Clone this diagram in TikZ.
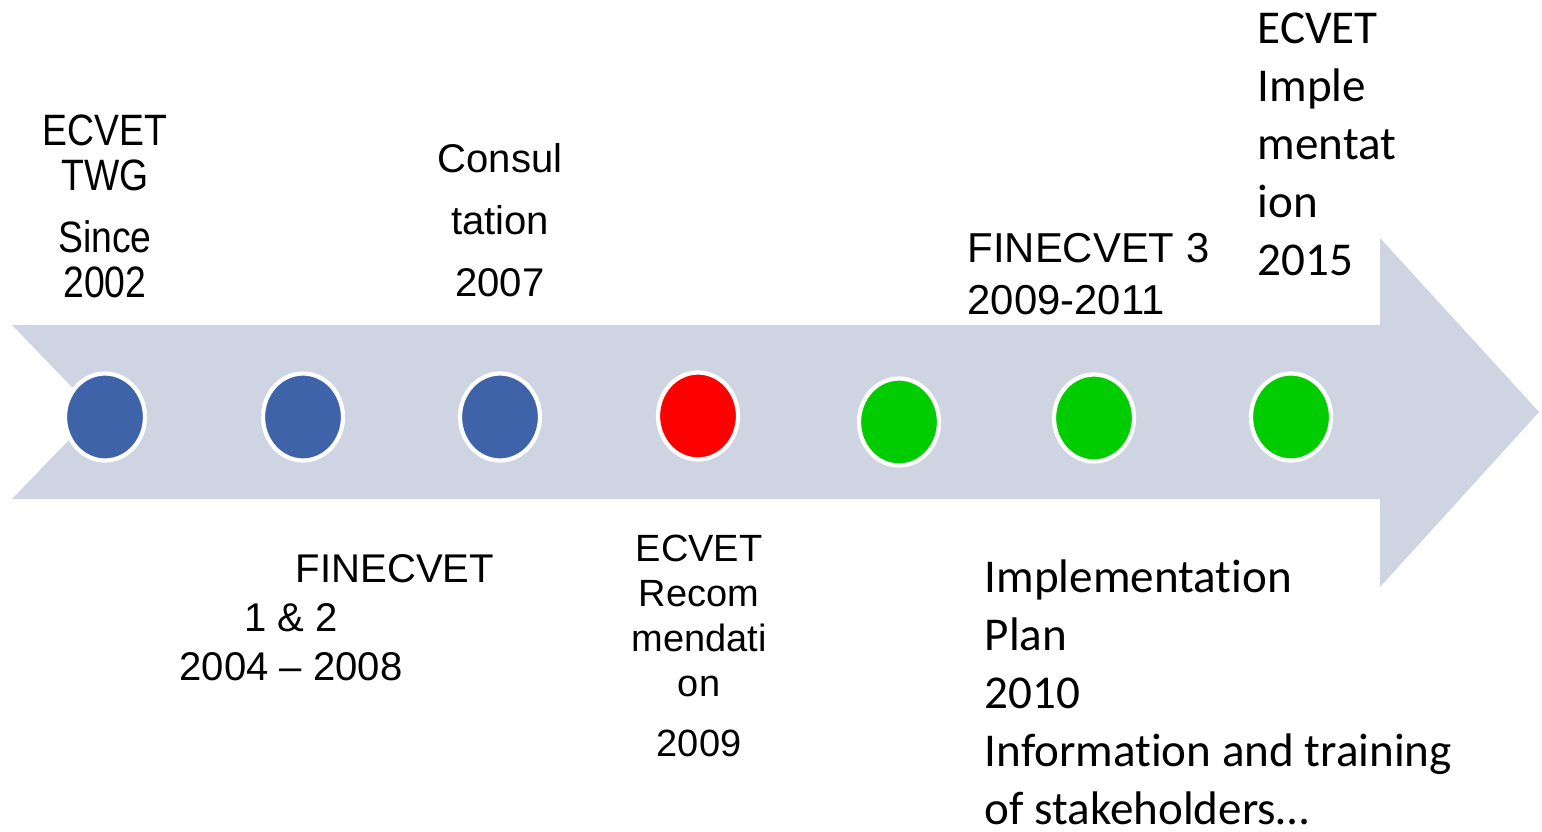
\documentclass[tikz,border=0pt]{standalone}
\usepackage{fontspec}
\setmainfont{Liberation Sans}
\newfontfamily\narrowarial[FakeStretch=0.85]{Liberation Sans}
\newfontfamily\calibri[Ligatures=NoCommon]{Carlito}
\usetikzlibrary{shapes.geometric}
\definecolor{arrowgrey}{RGB}{206,212,226}
\definecolor{dotblue}{RGB}{63,99,168}
\definecolor{dotred}{RGB}{255,0,0}
\definecolor{dotgreen}{RGB}{0,204,0}
\tikzset{
  dot/.style={ellipse,minimum width=0.80cm,minimum height=0.87cm,inner sep=0pt,
    draw=white,line width=1.2pt},
  lbl/.style={inner sep=0pt,align=center},
  lefttxt/.style={inner sep=0pt,align=left,anchor=west}
}
\begin{document}
\begin{tikzpicture}
    \useasboundingbox (0,0) rectangle (15.42,8.31);
    % the big arrow
    \fill[arrowgrey] (0.12,5.06) -- (13.80,5.06) -- (13.80,5.93) -- (15.39,4.19)
      -- (13.80,2.44) -- (13.80,3.32) -- (0.12,3.32) -- (0.96,4.19) -- cycle;
    \node[dot,fill=dotblue] (d1) at (1.05,4.14) {};
    \node[dot,fill=dotblue] (d2) at (3.03,4.14) {};
    \node[dot,fill=dotblue] (d3) at (5.00,4.14) {};
    \node[dot,fill=dotred] (d4) at (6.98,4.15) {};
    \node[dot,fill=dotgreen] (d5) at (8.99,4.09) {};
    \node[dot,fill=dotgreen] (d6) at (10.94,4.13) {};
    \node[dot,fill=dotgreen] (d7) at (12.91,4.14) {};
    % above the arrow
    \node[lbl,font=\narrowarial\fontsize{12.5}{12.8}\selectfont] (twg) at (1.05,6.245)
      {ECVET\\TWG\\[0.17cm]Since\\2002};
    \node[lbl,font=\fontsize{11.4}{17.6}\selectfont] (consul) at (5.00,6.11)
      {Consul\\tation\\2007};
    \node[lefttxt,font=\fontsize{11.9}{14.8}\selectfont] (fin3) at (9.67,5.57)
      {FINECVET 3\\2009-2011};
    \node[lefttxt,font=\calibri\fontsize{13.4}{16.5}\selectfont] (impl) at (12.57,6.87)
      {ECVET\\Imple\\mentat\\ion\\2015};
    % below the arrow
    \node[lbl,font=\fontsize{11.4}{13.9}\selectfont] (fin12) at (2.91,2.13)
      {\hspace*{2.08cm}FINECVET\\1 \& 2\\2004 – 2008};
    \node[lbl,font=\fontsize{10.8}{12.8}\selectfont] (rec) at (6.99,1.855)
      {ECVET\\Recom\\mendati\\on\\[0.15cm]2009};
    \node[lefttxt,font=\calibri\fontsize{13.4}{16.5}\selectfont] (plan) at (9.84,1.39)
      {Implementation\\Plan\\2010\\Information and training\\of stakeholders…};
\end{tikzpicture}
\end{document}
